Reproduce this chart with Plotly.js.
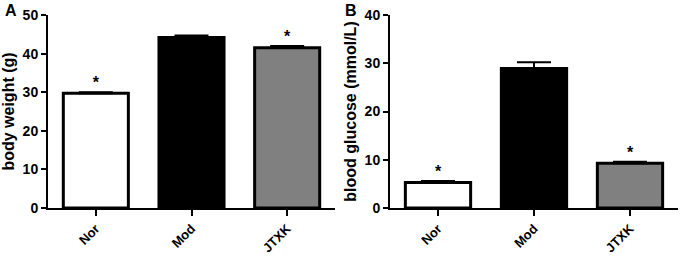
<!DOCTYPE html>
<html>
<head>
<meta charset="utf-8">
<script src="https://cdn.plot.ly/plotly-3.0.1.min.js"></script>
<style>html,body{margin:0;padding:0;background:#fff;}#chart{width:684px;height:256px;}</style>
</head>
<body>
<div id="chart"></div>
<script>
const categories = ["Nor", "Mod", "JTXK"];
const barColors = ["#ffffff", "#000000", "#808080"];

const weightMean = [29.7, 44.2, 41.5];
const weightErr = [0.3, 0.5, 0.5];
const weightStar = ["*", "", "*"];
const weightTicks = [0, 10, 20, 30, 40, 50];

const glucoseMean = [5.3, 28.9, 9.3];
const glucoseErr = [0.3, 1.3, 0.3];
const glucoseStar = ["*", "", "*"];
const glucoseTicks = [0, 10, 20, 30, 40];

const FONT = "Liberation Sans, Arial, sans-serif";
const zeros = categories.map(() => 0);
const bold = v => "<b>" + v + "</b>";

function barTrace(mean, err, xa, ya) {
  return {
    type: "bar", x: categories, y: mean, xaxis: xa, yaxis: ya,
    width: 0.68,
    marker: { color: barColors, line: { color: "#000", width: 3 } },
    error_y: { type: "data", symmetric: false, array: err, arrayminus: zeros,
               color: "#000", thickness: 2, width: 17 },
    showlegend: false, hoverinfo: "skip"
  };
}
function starTrace(mean, err, stars, xa, ya) {
  return {
    type: "scatter", mode: "text", x: categories,
    y: mean.map((m, i) => m + err[i]), text: stars,
    textposition: "top center", xaxis: xa, yaxis: ya,
    textfont: { family: FONT, size: 16, color: "#000000", weight: 700 },
    showlegend: false, hoverinfo: "skip", cliponaxis: false
  };
}

const data = [
  barTrace(weightMean, weightErr, "x", "y"),
  starTrace(weightMean, weightErr, weightStar, "x", "y"),
  barTrace(glucoseMean, glucoseErr, "x2", "y2"),
  starTrace(glucoseMean, glucoseErr, glucoseStar, "x2", "y2")
];

const xCommon = {
  showline: true, linecolor: "#000", linewidth: 2,
  ticks: "outside", ticklen: 6, tickwidth: 2, tickcolor: "#000",
  tickangle: -45, showgrid: false, zeroline: false,
  range: [-0.5, 2.5], fixedrange: true,
  tickmode: "array", tickvals: categories, ticktext: categories.map(bold),
  tickfont: { family: FONT, size: 13, color: "#000" }
};
const yCommon = {
  showline: true, linecolor: "#000", linewidth: 2,
  ticks: "outside", ticklen: 5, tickwidth: 2, tickcolor: "#000",
  showgrid: false, zeroline: false, tickmode: "array",
  tickfont: { family: FONT, size: 14, color: "#000" }
};

const layout = {
  width: 684, height: 256,
  margin: { l: 0, r: 0, t: 15, b: 48 },
  paper_bgcolor: "#fff", plot_bgcolor: "#fff",
  xaxis: Object.assign({}, xCommon, { domain: [48/684, 335/684], anchor: "y" }),
  yaxis: Object.assign({}, yCommon, { range: [0, 50], anchor: "x",
    tickvals: weightTicks, ticktext: weightTicks.map(bold),
    title: { text: "<b>body weight (g)</b>", standoff: 4,
             font: { family: FONT, size: 16, color: "#000" } } }),
  xaxis2: Object.assign({}, xCommon, { domain: [390/684, 678/684], anchor: "y2" }),
  yaxis2: Object.assign({}, yCommon, { range: [0, 40], anchor: "x2",
    tickvals: glucoseTicks, ticktext: glucoseTicks.map(bold),
    title: { text: "<b>blood glucose (mmol/L)</b>", standoff: 4,
             font: { family: FONT, size: 16, color: "#000" } } }),
  annotations: [
    { text: "<b>A</b>", xref: "paper", yref: "paper", x: 3/684, y: 1.0,
      xanchor: "left", yanchor: "middle", yshift: 5, showarrow: false,
      font: { family: FONT, size: 16, color: "#000" } },
    { text: "<b>B</b>", xref: "paper", yref: "paper", x: 343/684, y: 1.0,
      xanchor: "left", yanchor: "middle", yshift: 5, showarrow: false,
      font: { family: FONT, size: 16, color: "#000" } }
  ]
};

Plotly.newPlot("chart", data, layout, { staticPlot: true, displayModeBar: false });
</script>
</body>
</html>
